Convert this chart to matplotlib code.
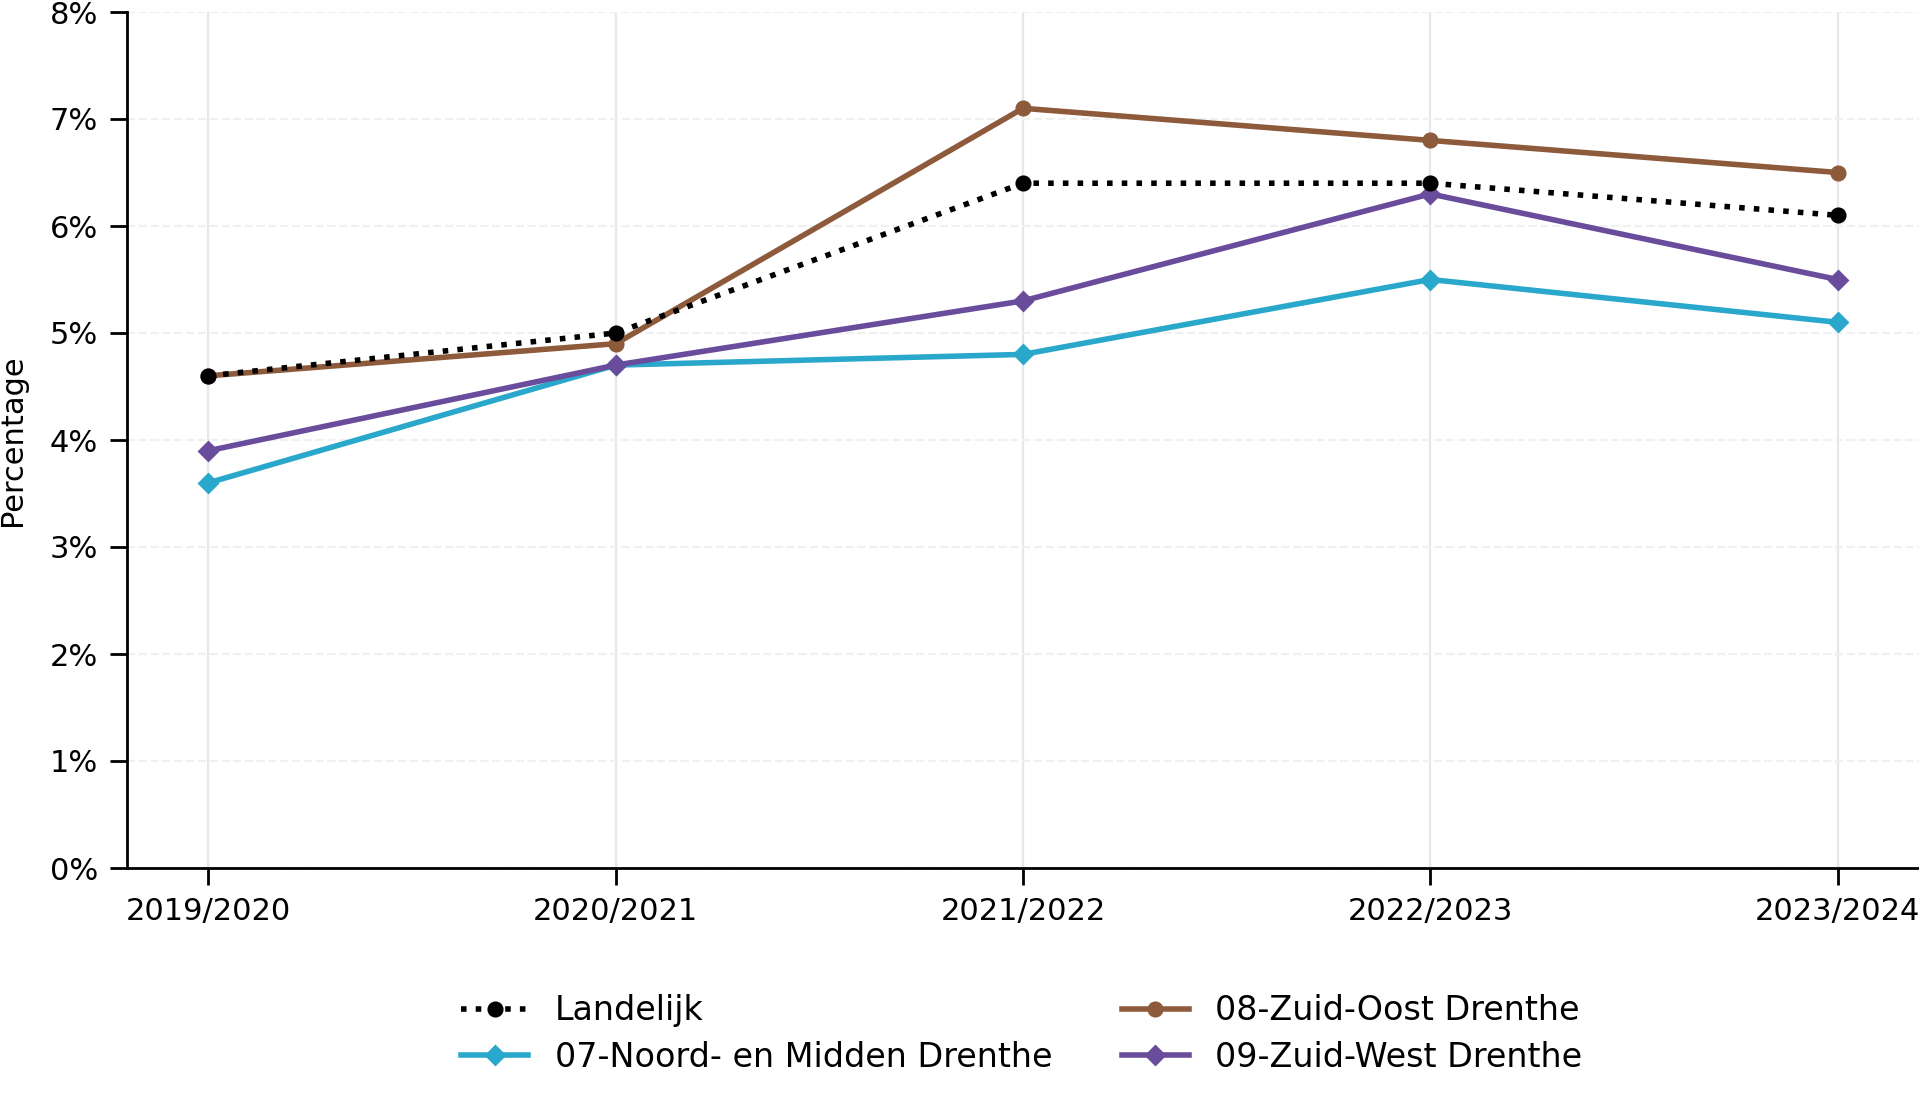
import matplotlib
matplotlib.use("Agg")
import matplotlib.pyplot as plt
from matplotlib.ticker import FuncFormatter

years = ["2019/2020", "2020/2021", "2021/2022", "2022/2023", "2023/2024"]
landelijk = [4.6, 5.0, 6.4, 6.4, 6.1]
noord_midden = [3.6, 4.7, 4.8, 5.5, 5.1]
zuid_oost = [4.6, 4.9, 7.1, 6.8, 6.5]
zuid_west = [3.9, 4.7, 5.3, 6.3, 5.5]

plt.rcParams['font.family'] = ['DejaVu Sans']
fig = plt.figure(figsize=(9.595, 5.54), dpi=200)
ax = fig.add_axes([127/1919, 1 - 868/1108, 1 - 127/1919, (868 - 12)/1108])

x = list(range(len(years)))
ax.plot(x, landelijk, color='black', linestyle=':', linewidth=2, marker='o', markersize=4.8, label='Landelijk', zorder=5)
ax.plot(x, noord_midden, color='#2AA8CB', linewidth=2, marker='D', markersize=4.8, label='07-Noord- en Midden Drenthe', zorder=3)
ax.plot(x, zuid_oost, color='#8D5B3C', linewidth=2, marker='o', markersize=4.8, label='08-Zuid-Oost Drenthe', zorder=4)
ax.plot(x, zuid_west, color='#6A4C9C', linewidth=2, marker='D', markersize=4.8, label='09-Zuid-West Drenthe', zorder=4)

ax.set_xlim(-0.2, 4.2)
ax.set_ylim(0, 8)
ax.set_xticks(x)
ax.set_xticklabels(years)
ax.set_yticks(range(0, 9))
ax.yaxis.set_major_formatter(FuncFormatter(lambda v, p: f"{int(v)}%"))
ax.tick_params(axis='both', labelsize=11, length=6, width=1.0, pad=4.5)
ax.set_ylabel("Percentage", fontsize=11, labelpad=8)

ax.spines['top'].set_visible(False)
ax.spines['right'].set_visible(False)
ax.spines['left'].set_linewidth(1.0)
ax.spines['bottom'].set_linewidth(1.0)
ax.grid(axis='x', color='#E6E6EC', linewidth=0.8)
ax.grid(axis='y', color='#F0F0F0', linewidth=0.8, linestyle='--')
ax.set_axisbelow(True)

handles, labels = ax.get_legend_handles_labels()
fig.legend(handles, labels, ncol=2,
           loc='center', bbox_to_anchor=(0.5325, 1 - 1034/1108), frameon=False,
           fontsize=12, handlelength=2.0, columnspacing=2.1, labelspacing=0.4)

fig.savefig("out.png", dpi=200)
